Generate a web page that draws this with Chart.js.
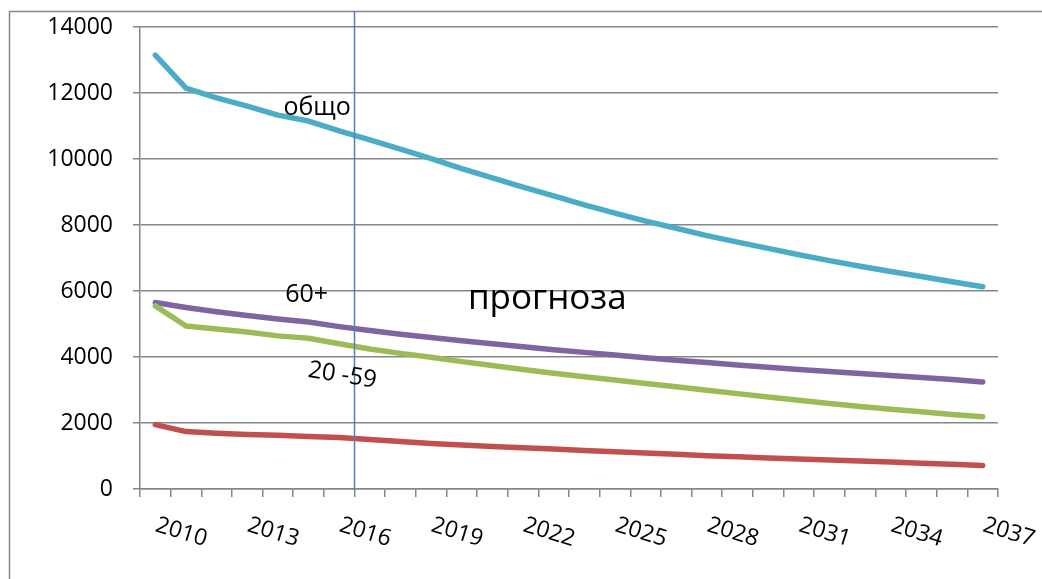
<!DOCTYPE html>
<html>
<head>
<meta charset="utf-8">
<script src="https://cdn.jsdelivr.net/npm/chart.js@4.4.1/dist/chart.umd.min.js"></script>
<style>
  body { margin: 0; background: #fff; }
  canvas { display: block; }
</style>
</head>
<body>
<canvas id="chart" width="1042" height="579"></canvas>
<script>
const years = ['2010', '2011', '2012', '2013', '2014', '2015', '2016', '2017', '2018', '2019',
  '2020', '2021', '2022', '2023', '2024', '2025', '2026', '2027', '2028', '2029',
  '2030', '2031', '2032', '2033', '2034', '2035', '2036', '2037'];

// общо
const total = [13150, 12150, 11850, 11600, 11330, 11150, 10850, 10580, 10300, 10010,
  9710, 9430, 9150, 8880, 8610, 8360, 8120, 7900, 7680, 7480,
  7290, 7100, 6920, 6750, 6590, 6440, 6280, 6130];
// 60+
const age60plus = [5650, 5500, 5370, 5260, 5150, 5060, 4920, 4800, 4690, 4590,
  4490, 4400, 4310, 4220, 4140, 4060, 3980, 3900, 3830, 3760,
  3690, 3620, 3560, 3500, 3440, 3380, 3320, 3240];
// 20 - 59
const age20to59 = [5550, 4940, 4850, 4760, 4640, 4570, 4400, 4240, 4110, 3990,
  3860, 3740, 3620, 3510, 3400, 3300, 3200, 3100, 2990, 2890,
  2790, 2690, 2590, 2500, 2420, 2340, 2260, 2190];
// 0 - 19
const age0to19 = [1950, 1740, 1690, 1650, 1630, 1590, 1560, 1500, 1440, 1380,
  1330, 1290, 1250, 1210, 1170, 1130, 1090, 1050, 1010, 975,
  940, 910, 880, 850, 815, 780, 750, 715];

const yMin = 0, yMax = 14000, yStep = 2000;
const labelEvery = 3;
const forecastStart = 6; // прогноза starts after 2016

const gridColor = '#868686';
const fontFamily = '"Open Sans", "DejaVu Sans", sans-serif';
Chart.defaults.font.family = fontFamily;
Chart.defaults.color = '#000';

function line(label, data, color) {
  return {
    label: label,
    data: data,
    borderColor: color,
    backgroundColor: color,
    borderWidth: 5.5,
    borderCapStyle: 'round',
    borderJoinStyle: 'round',
    pointRadius: 0,
    pointHoverRadius: 0,
    tension: 0,
    fill: false
  };
}

const decorations = {
  id: 'decorations',
  beforeDraw(chart) {
    const ctx = chart.ctx;
    ctx.save();
    ctx.fillStyle = '#fff';
    ctx.fillRect(0, 0, chart.width, chart.height);
    // frame around the chart
    ctx.strokeStyle = gridColor;
    ctx.lineWidth = 1.5;
    ctx.beginPath();
    ctx.moveTo(9.5, chart.height);
    ctx.lineTo(9.5, 11.5);
    ctx.lineTo(chart.width, 11.5);
    ctx.stroke();
    ctx.restore();
  },
  afterDatasetsDraw(chart) {
    const { ctx, scales: { x }, chartArea } = chart;
    // boundary between data and forecast
    const xs = (x.getPixelForValue(forecastStart) + x.getPixelForValue(forecastStart + 1)) / 2;
    ctx.save();
    ctx.strokeStyle = '#4F81BD';
    ctx.lineWidth = 1.5;
    ctx.beginPath();
    ctx.moveTo(xs, 11);
    ctx.lineTo(xs, chartArea.bottom + 1);
    ctx.stroke();
    ctx.restore();
  },
  afterDraw(chart) {
    const { ctx, scales: { x, y }, chartArea } = chart;
    ctx.save();
    ctx.fillStyle = '#000';
    ctx.textAlign = 'left';
    ctx.textBaseline = 'alphabetic';

    // slanted year labels
    ctx.font = '23px ' + fontFamily;
    for (let i = 0; i < years.length; i += labelEvery) {
      ctx.save();
      ctx.translate(x.getPixelForValue(i) - 1, chartArea.bottom + 42);
      ctx.rotate(17 * Math.PI / 180);
      ctx.fillText(years[i], 0, 0);
      ctx.restore();
    }

    // series names
    ctx.font = '25px ' + fontFamily;
    ctx.fillText('общо', x.getPixelForValue(4.18), y.getPixelForValue(11330));
    ctx.font = '25px ' + fontFamily;
    ctx.fillText('60+', x.getPixelForValue(4.24), y.getPixelForValue(5670));
    ctx.save();
    ctx.font = '24px ' + fontFamily;
    ctx.translate(x.getPixelForValue(4.96), y.getPixelForValue(3400));
    ctx.rotate(9 * Math.PI / 180);
    ctx.fillText('20 -59', 0, 0);
    ctx.restore();
    ctx.font = '35px ' + fontFamily;
    ctx.fillText('прогноза', x.getPixelForValue(10.2), y.getPixelForValue(5450));
    ctx.restore();
  }
};

new Chart(document.getElementById('chart').getContext('2d'), {
  type: 'line',
  data: {
    labels: years,
    datasets: [
      line('0 - 19', age0to19, '#C0504D'),
      line('20 - 59', age20to59, '#9BBB59'),
      line('60+', age60plus, '#8064A2'),
      line('общо', total, '#4BACC6')
    ]
  },
  options: {
    responsive: false,
    animation: false,
    devicePixelRatio: 1,
    layout: { padding: { top: 27, right: 44, bottom: 0, left: 0 } },
    plugins: {
      legend: { display: false },
      tooltip: { enabled: false }
    },
    scales: {
      x: {
        offset: true,
        afterFit(scale) {
          scale.height = 90;
          scale.paddingLeft = 0;
          scale.paddingRight = 0;
        },
        border: { color: gridColor, width: 1.5 },
        grid: {
          offset: true,
          drawOnChartArea: false,
          drawTicks: true,
          tickLength: 8,
          color: gridColor,
          lineWidth: 1.5
        },
        ticks: { display: false }
      },
      y: {
        min: yMin,
        max: yMax,
        afterFit(scale) {
          scale.width = 140;
          scale.paddingTop = 0;
          scale.paddingBottom = 0;
        },
        border: { color: gridColor, width: 1.5 },
        grid: {
          color: gridColor,
          lineWidth: 1.5,
          drawTicks: true,
          tickLength: 7
        },
        ticks: {
          stepSize: yStep,
          padding: 20,
          font: { size: 23 },
          color: '#000',
          callback: (v) => String(v)
        }
      }
    }
  },
  plugins: [decorations]
});
</script>
</body>
</html>
